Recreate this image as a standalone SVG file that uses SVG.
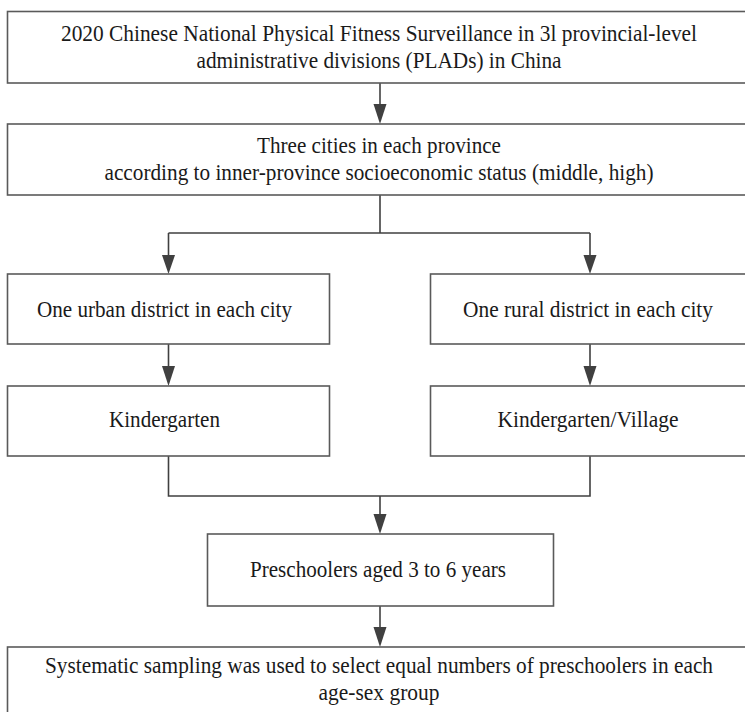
<svg xmlns="http://www.w3.org/2000/svg" width="745" height="712" viewBox="0 0 745 712">
<defs>
<style>
.box{fill:#fff;stroke:#5a5a5a;stroke-width:1.6}
text{font-family:'Liberation Serif','Times New Roman',serif;font-size:22.5px;fill:#1a1a1a;text-anchor:middle}
.c{fill:none;stroke:#404040;stroke-width:1.6}
.ah{fill:#404040}
</style>
</defs>
<rect width="745" height="712" fill="#fff"/>
<g id="connectors">
<path class="c" d="M380,83 V105"/>
<path class="ah" d="M373.5,104 L386.5,104 L380,124 Z"/>
<path class="c" d="M380,195 V233 M168.5,233 H590 M168.5,233 V256 M590,233 V256"/>
<path class="ah" d="M162,255 L175,255 L168.5,274 Z"/>
<path class="ah" d="M583.5,255 L596.5,255 L590,274 Z"/>
<path class="c" d="M168.5,344 V367 M590,344 V367"/>
<path class="ah" d="M162,366 L175,366 L168.5,386 Z"/>
<path class="ah" d="M583.5,366 L596.5,366 L590,386 Z"/>
<path class="c" d="M168.5,456 V496 H590 V456 M380,496 V515"/>
<path class="ah" d="M373.5,514 L386.5,514 L380,534 Z"/>
<path class="c" d="M380,606 V628"/>
<path class="ah" d="M373.5,627 L386.5,627 L380,647 Z"/>
</g>
<g id="n1"><rect class="box" x="7.5" y="11.5" width="739" height="71.5"/>
<text x="379" y="41" textLength="636" lengthAdjust="spacingAndGlyphs">2020 Chinese National Physical Fitness Surveillance in 3l provincial-level</text>
<text x="379" y="68" textLength="365" lengthAdjust="spacingAndGlyphs">administrative divisions (PLADs) in China</text></g>
<g id="n2"><rect class="box" x="7.5" y="124" width="739" height="71"/>
<text x="379" y="153" textLength="244" lengthAdjust="spacingAndGlyphs">Three cities in each province</text>
<text x="379" y="180" textLength="549" lengthAdjust="spacingAndGlyphs">according to inner-province socioeconomic status (middle, high)</text></g>
<g id="n3"><rect class="box" x="7.5" y="274" width="322" height="70"/>
<text x="164.5" y="317" textLength="255" lengthAdjust="spacingAndGlyphs">One urban district in each city</text></g>
<g id="n4"><rect class="box" x="430.5" y="274" width="316" height="70"/>
<text x="588" y="317" textLength="250" lengthAdjust="spacingAndGlyphs">One rural district in each city</text></g>
<g id="n5"><rect class="box" x="7.5" y="386" width="322" height="70"/>
<text x="164.5" y="427" textLength="111" lengthAdjust="spacingAndGlyphs">Kindergarten</text></g>
<g id="n6"><rect class="box" x="430.5" y="386" width="316" height="70"/>
<text x="588" y="427" textLength="181" lengthAdjust="spacingAndGlyphs">Kindergarten/Village</text></g>
<g id="n7"><rect class="box" x="207.5" y="534" width="346" height="72"/>
<text x="378" y="577" textLength="256" lengthAdjust="spacingAndGlyphs">Preschoolers aged 3 to 6 years</text></g>
<g id="n8"><rect class="box" x="7.5" y="647" width="739" height="66"/>
<text x="379" y="673" textLength="668" lengthAdjust="spacingAndGlyphs">Systematic sampling was used to select equal numbers of preschoolers in each</text>
<text x="379" y="700" textLength="121" lengthAdjust="spacingAndGlyphs">age-sex group</text></g>
</svg>
